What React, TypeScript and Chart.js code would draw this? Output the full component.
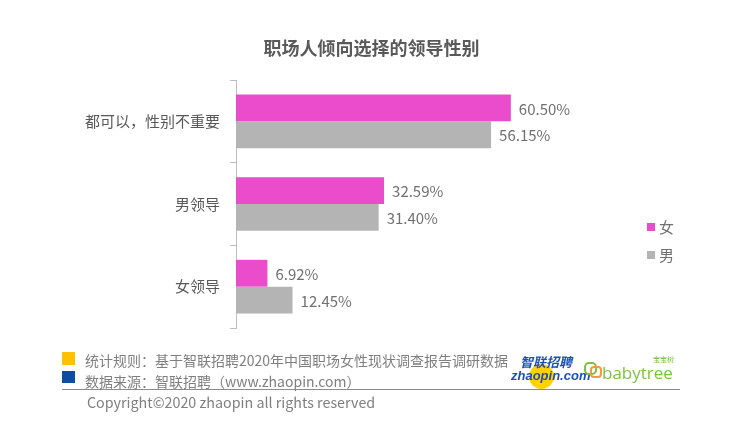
import React, { useEffect, useRef } from "react";
import { Chart, registerables } from "chart.js";

Chart.register(...registerables);

const categories = ["都可以，性别不重要", "男领导", "女领导"];
const femaleValues = [60.5, 32.59, 6.92];
const maleValues = [56.15, 31.4, 12.45];
const seriesNames = ["女", "男"];
const xMax = 70;

const PINK = "#EA4CCB";
const GREY = "#B4B4B4";
const FONT = '"Noto Sans CJK SC", "Noto Sans", sans-serif';

const valueLabels = {
  id: "valueLabels",
  afterDatasetsDraw(chart: any) {
    const ctx = chart.ctx;
    ctx.save();
    ctx.font = `15px ${FONT}`;
    ctx.fillStyle = "#707070";
    ctx.textBaseline = "middle";
    ctx.textAlign = "left";
    chart.data.datasets.forEach((ds: any, i: number) => {
      const meta = chart.getDatasetMeta(i);
      meta.data.forEach((el: any, j: number) => {
        const v = ds.data[j] as number;
        ctx.fillText(v.toFixed(2) + "%", el.x + 8, el.y + 1);
      });
    });
    ctx.restore();
  },
};

function ChartCanvas() {
  const ref = useRef<HTMLCanvasElement | null>(null);
  useEffect(() => {
    if (!ref.current) return;
    const chart = new Chart(ref.current, {
      type: "bar",
      data: {
        labels: categories,
        datasets: [
          {
            label: seriesNames[0],
            data: femaleValues,
            backgroundColor: PINK,
            barPercentage: 1,
            categoryPercentage: 0.65,
          },
          {
            label: seriesNames[1],
            data: maleValues,
            backgroundColor: GREY,
            barPercentage: 1,
            categoryPercentage: 0.65,
          },
        ],
      },
      options: {
        indexAxis: "y",
        animation: false,
        responsive: false,
        maintainAspectRatio: false,
        layout: { padding: { top: 80, bottom: 98, right: 185, left: 0 } },
        plugins: {
          legend: { display: false },
          tooltip: { enabled: false },
          title: { display: false },
        },
        scales: {
          x: { display: false, min: 0, max: xMax },
          y: {
            afterFit: (s: any) => {
              s.width = 236;
            },
            border: { display: true, color: "#BFBFBF", width: 1 },
            grid: {
              display: true,
              drawOnChartArea: false,
              tickLength: 6,
              color: "#BFBFBF",
            },
            ticks: {
              padding: 10,
              color: "#595959",
              font: { size: 15, family: FONT },
            },
          },
        },
      },
      plugins: [valueLabels],
    });
    return () => chart.destroy();
  }, []);
  return (
    <canvas
      ref={ref}
      width={739}
      height={426}
      style={{ position: "absolute", left: 0, top: 0, width: 739, height: 426 }}
    />
  );
}

export default function App() {
  const txt: React.CSSProperties = {
    position: "absolute",
    fontFamily: FONT,
    whiteSpace: "nowrap",
    lineHeight: 1,
  };
  return (
    <div
      style={{
        position: "fixed",
        left: 0,
        top: 0,
        width: 739,
        height: 426,
        background: "#fff",
        overflow: "hidden",
      }}
    >
      <ChartCanvas />
      <div
        style={{
          ...txt,
          left: 0,
          width: 739,
          top: 38,
          textAlign: "center",
          fontSize: 18,
          fontWeight: "bold",
          color: "#595959",
          paddingLeft: 2,
        }}
      >
        职场人倾向选择的领导性别
      </div>
      {/* legend */}
      <div style={{ position: "absolute", left: 647, top: 223, width: 8, height: 8, background: PINK }} />
      <div style={{ ...txt, left: 659, top: 219, fontSize: 15, color: "#707070" }}>{seriesNames[0]}</div>
      <div style={{ position: "absolute", left: 647, top: 251, width: 8, height: 8, background: GREY }} />
      <div style={{ ...txt, left: 659, top: 247, fontSize: 15, color: "#707070" }}>{seriesNames[1]}</div>
      {/* footer */}
      <div style={{ position: "absolute", left: 62, top: 352, width: 13, height: 13, background: "#FFC000" }} />
      <div style={{ ...txt, left: 85, top: 353, fontSize: 14, color: "#7F7F7F" }}>
        统计规则：基于智联招聘2020年中国职场女性现状调查报告调研数据
      </div>
      <div style={{ position: "absolute", left: 62, top: 371, width: 13, height: 12, background: "#0E4DA4" }} />
      <div style={{ ...txt, left: 85, top: 374, fontSize: 14, color: "#7F7F7F" }}>
        数据来源：智联招聘（www.zhaopin.com）
      </div>
      <div style={{ position: "absolute", left: 62, top: 389, width: 618, height: 1, background: "#8C8C8C" }} />
      <div style={{ ...txt, left: 87, top: 395, fontSize: 14.3, color: "#7F7F7F" }}>
        Copyright©2020 zhaopin all rights reserved
      </div>
      {/* logos */}
      <div
        style={{
          position: "absolute",
          left: 529,
          top: 364,
          width: 25,
          height: 25,
          borderRadius: 13,
          background: "#FFD200",
        }}
      />
      <div
        style={{
          ...txt,
          left: 520,
          top: 355,
          fontSize: 13,
          fontWeight: "bold",
          fontStyle: "italic",
          color: "#1F4FB5",
        }}
      >
        智联招聘
      </div>
      <div
        style={{
          ...txt,
          left: 511,
          top: 369,
          fontSize: 13,
          fontWeight: "bold",
          fontStyle: "italic",
          color: "#1F4FB5",
          fontFamily: '"Liberation Sans", sans-serif',
        }}
      >
        zhaopin.com
      </div>
      <div
        style={{
          position: "absolute",
          left: 584,
          top: 362,
          width: 9,
          height: 9,
          borderRadius: 5,
          border: "2px solid #7CC242",
        }}
      />
      <div
        style={{
          position: "absolute",
          left: 590,
          top: 366,
          width: 8,
          height: 8,
          borderRadius: 4,
          border: "2px solid #F29B38",
        }}
      />
      <div
        style={{
          ...txt,
          left: 602,
          top: 364,
          fontSize: 17,
          color: "#7CC242",
          fontFamily: '"Open Sans", sans-serif',
        }}
      >
        babytree
      </div>
      <div style={{ ...txt, left: 653, top: 356, fontSize: 7, color: "#7CC242" }}>宝宝树</div>
    </div>
  );
}
